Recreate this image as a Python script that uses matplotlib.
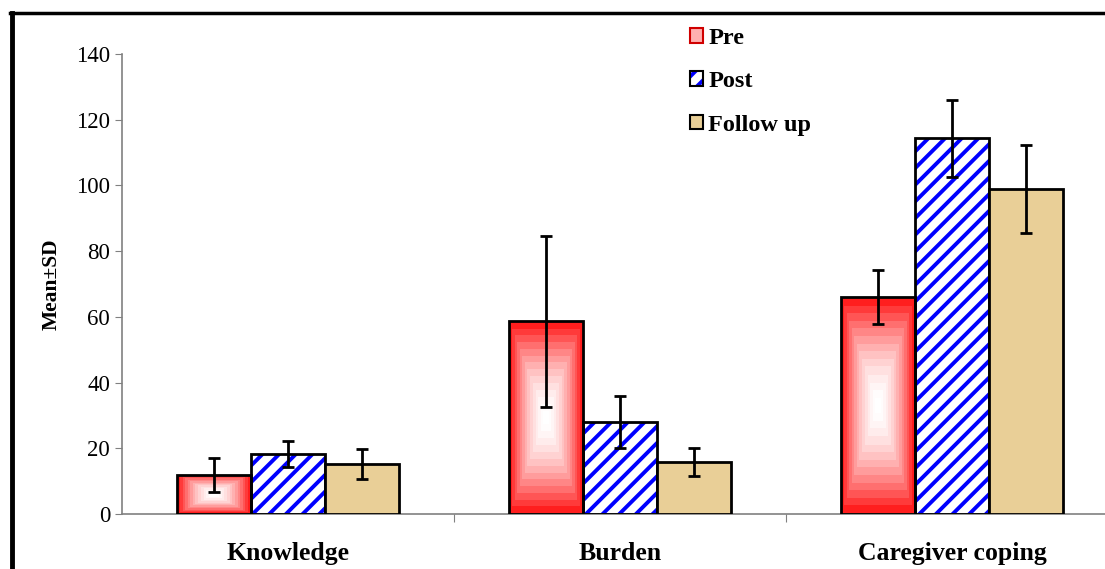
import matplotlib
import numpy as np

matplotlib.use('Agg')
import matplotlib.pyplot as plt
from matplotlib.patches import Patch
from matplotlib.lines import Line2D

groups = ['Knowledge', 'Burden', 'Caregiver coping']
pre_mean = [11.9, 58.7, 66.0]
pre_sd = [5.2, 26.0, 8.3]
post_mean = [18.3, 28.0, 114.4]
post_sd = [4.0, 7.8, 11.7]
follow_mean = [15.2, 15.8, 98.9]
follow_sd = [4.6, 4.3, 13.3]
series = ['Pre', 'Post', 'Follow up']

plt.rcParams['font.family'] = ['Liberation Serif', 'DejaVu Serif']
plt.rcParams['hatch.linewidth'] = 2.8

fig = plt.figure(figsize=(11.05, 5.69), dpi=100)
ax = fig.add_axes([122 / 1105, 55 / 569, 996 / 1105, 460 / 569])

x = np.arange(len(groups))
w = 0.222
err_kw = dict(ecolor='black', elinewidth=2, capsize=4.5, capthick=2)
tan = '#E9CF97'

# Pre: red box gradient, drawn as an image clipped to each bar
pre_bars = ax.bar(x - w, pre_mean, w, facecolor='none', edgecolor='black', linewidth=2, zorder=3)
u = np.linspace(-1, 1, 200)
uu, vv = np.meshgrid(u, u)
t = np.floor(np.maximum(np.abs(uu), np.abs(vv)) * 14) / 14
t = t ** 1.7
grad = np.dstack([np.ones_like(t), 1 - t, 1 - t])
for b in pre_bars:
    im = ax.imshow(grad, extent=[b.get_x(), b.get_x() + b.get_width(), 0, b.get_height()],
                   aspect='auto', zorder=2, interpolation='nearest')
    im.set_clip_path(b)
ax.errorbar(x - w, pre_mean, yerr=pre_sd, fmt='none', zorder=4, **err_kw)

# Post: blue diagonal stripes
ax.bar(x, post_mean, w, facecolor='white', edgecolor='blue', hatch='//', linewidth=0, zorder=2)
ax.bar(x, post_mean, w, facecolor='none', edgecolor='black', linewidth=2, zorder=3)
ax.errorbar(x, post_mean, yerr=post_sd, fmt='none', zorder=4, **err_kw)

# Follow up: tan
ax.bar(x + w, follow_mean, w, facecolor=tan, edgecolor='black', linewidth=2, zorder=3)
ax.errorbar(x + w, follow_mean, yerr=follow_sd, fmt='none', zorder=4, **err_kw)

ax.set_xlim(-0.5, 2.5)
ax.set_ylim(0, 140)
ax.set_yticks(range(0, 141, 20))
ax.tick_params(axis='y', labelsize=16.5, length=5, color='#808080')
ax.set_xticks([0.5, 1.5])
ax.set_xticklabels([])
ax.tick_params(axis='x', length=6, color='#808080')
for i, g in enumerate(groups):
    ax.text(i, -12, g, ha='center', va='center', fontsize=18.5, fontweight='bold')
for s in ['top', 'right']:
    ax.spines[s].set_visible(False)
for s in ['left', 'bottom']:
    ax.spines[s].set_color('#808080')
    ax.spines[s].set_linewidth(1.2)
ax.set_ylabel('Mean±SD', fontsize=15.5, fontweight='bold', labelpad=10)

handles = [Patch(facecolor='#FFB0B0', edgecolor='#D00000', linewidth=1.5),
           (Patch(facecolor='white', edgecolor='blue', hatch='//', linewidth=0),
            Patch(facecolor='none', edgecolor='black', linewidth=1.5)),
           Patch(facecolor=tan, edgecolor='black', linewidth=1.5)]
leg = fig.legend(handles, series, loc='upper left', bbox_to_anchor=(668 / 1105, 1 - 6 / 569),
                 frameon=False, handlelength=0.55, handleheight=0.55, handletextpad=0.2,
                 labelspacing=0.92, prop={'weight': 'bold', 'size': 17.5})

# figure border
fig.add_artist(Line2D([12 / 1105, 12 / 1105], [0, 1 - 13 / 569], color='black', linewidth=3.5))
fig.add_artist(Line2D([10 / 1105, 1], [1 - 13 / 569, 1 - 13 / 569], color='black', linewidth=2.5))

fig.savefig('out.png', dpi=100)
